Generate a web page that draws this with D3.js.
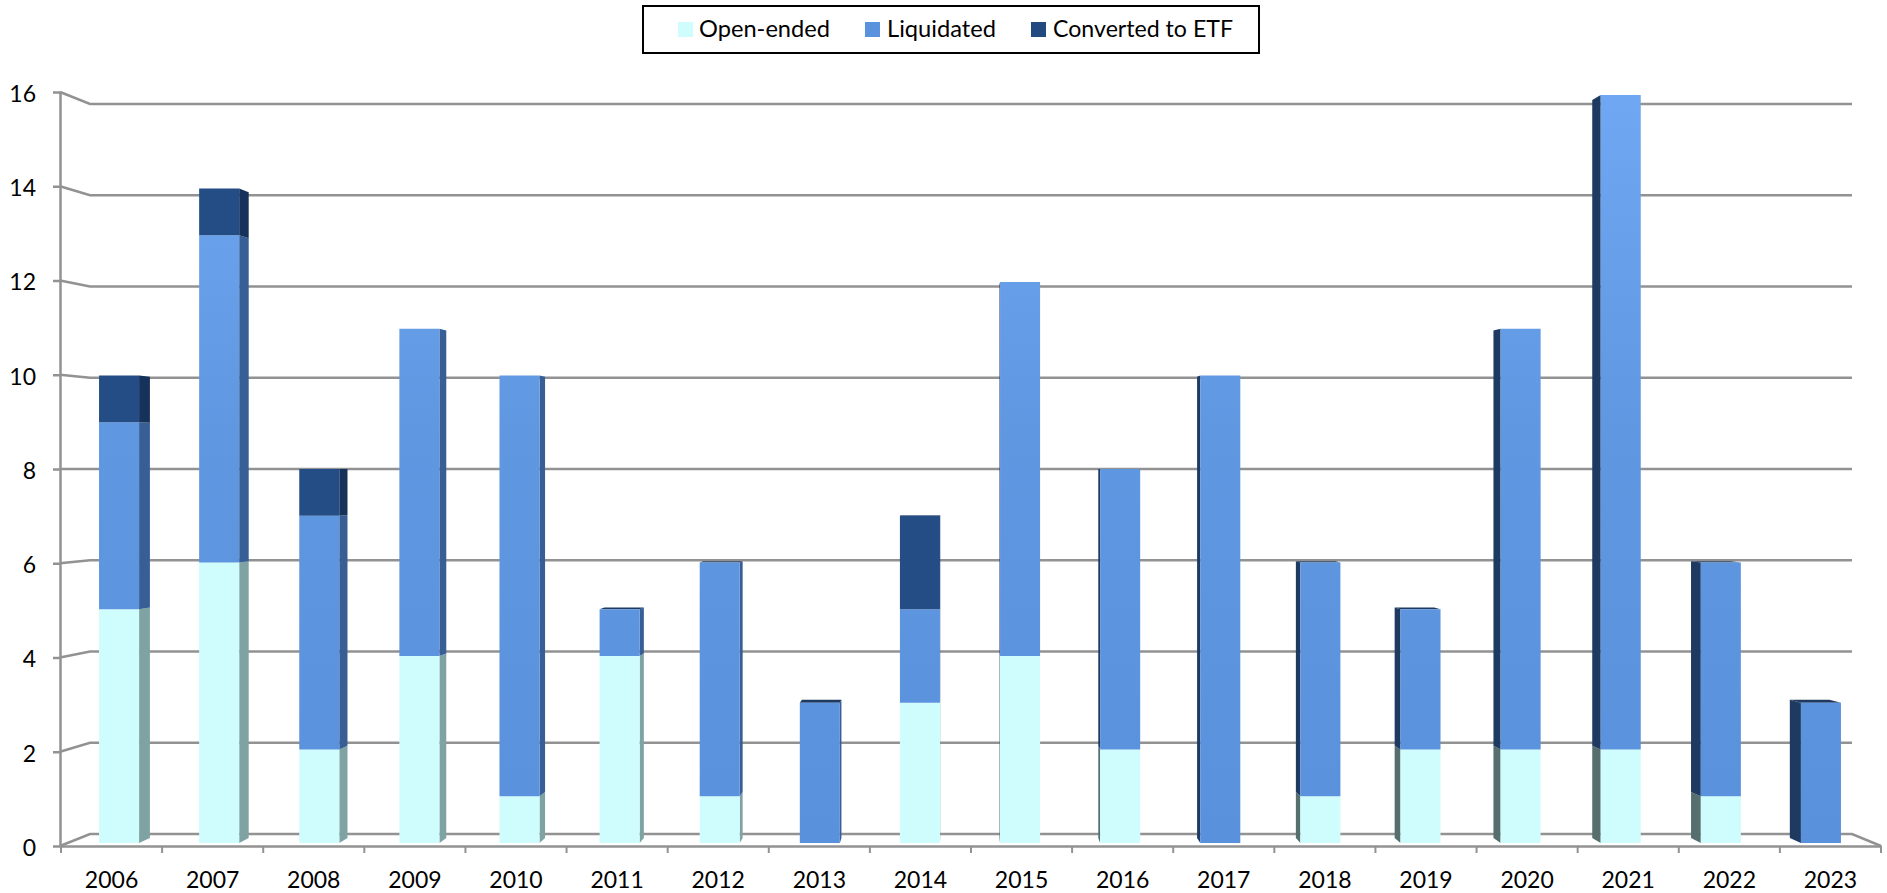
<!DOCTYPE html>
<html>
<head>
<meta charset="utf-8">
<script src="https://cdn.jsdelivr.net/npm/d3@7"></script>
<style>
  html, body { margin: 0; padding: 0; background: #fff; }
  svg { display: block; font-family: Lato, "Open Sans", sans-serif; }
  .domain, .tick line { stroke: #929292; stroke-width: 2.5px; }
  .tick text { fill: #000; font-size: 23px; font-family: Lato, "Open Sans", sans-serif; }
</style>
</head>
<body>
<div id="chart"></div>
<script>
const years = ["2006","2007","2008","2009","2010","2011","2012","2013","2014","2015","2016","2017","2018","2019","2020","2021","2022","2023"]
const openEnded = [5,6,2,4,1,4,1,0,3,4,2,0,1,2,2,2,1,0]
const liquidated = [4,7,5,7,9,1,5,3,2,8,6,10,5,3,9,14,5,3]
const convertedToEtf = [1,1,1,0,0,0,0,0,2,0,0,0,0,0,0,0,0,0]
const seriesNames = ["Open-ended", "Liquidated", "Converted to ETF"]
const yTicks = [0,2,4,6,8,10,12,14,16]

async function drawChart() {
  const dimensions = { width: 1887, height: 893 }

  // front colour, side facing right, side facing left, top
  const faceColors = {
    "Open-ended": { front: "#cffdfd", right: "#7fa3a3", left: "#566e6e", top: "#566e6e" },
    "Liquidated": { front: "url(#liquidated-gradient)", right: "#375f95", left: "#1f3a60", top: "#1f3a60" },
    "Converted to ETF": { front: "#244d85", right: "#16325a", left: "#16325a", top: "#16325a" },
  }
  const legendColors = ["#cffdfd", "#5b92dd", "#224a80"]

  const svg = d3.select("#chart").append("svg")
    .attr("width", dimensions.width)
    .attr("height", dimensions.height)

  const gradient = svg.append("defs").append("linearGradient")
    .attr("id", "liquidated-gradient")
    .attr("gradientUnits", "userSpaceOnUse")
    .attr("x1", 0).attr("x2", 0)
    .attr("y1", 95).attr("y2", 843)
  gradient.append("stop").attr("offset", "0%").attr("stop-color", "#70a7f2")
  gradient.append("stop").attr("offset", "45%").attr("stop-color", "#6097e1")
  gradient.append("stop").attr("offset", "100%").attr("stop-color", "#5a91dc")

  // Scales: front of the box, back wall, and the plane the bars stand in
  const xAxisScale = d3.scaleBand().domain(years).range([61, 1881])
  const xBack = d3.scaleBand().domain(years).range([90, 1852])
  const xBar = d3.scaleBand().domain(years).range([69, 1871])
    .paddingInner(0.6).paddingOuter(0.3)
  const yFront = d3.scaleLinear().domain([0, 16]).range([846, 92])
  const yBack = d3.scaleLinear().domain([0, 16]).range([834, 104])
  const yBar = d3.scaleLinear().domain([0, 16]).range([843, 95])

  // Fake perspective for the bar depth
  const vanishX = 960, vanishY = 469, depth = 0.0132
  const backX = x => x + (vanishX - x) * depth
  const backY = y => y + (vanishY - y) * depth

  // Gridlines on the back wall
  const grid = svg.append("g")
  grid.selectAll("path")
    .data(yTicks)
    .join("path")
      .attr("fill", "none")
      .attr("stroke", "#929292")
      .attr("stroke-width", 2.5)
      .attr("d", d => {
        const path = d3.path()
        path.moveTo(60, yFront(d))
        path.lineTo(xBack.range()[0], yBack(d))
        path.lineTo(xBack.range()[1], yBack(d))
        if (d === 0) path.lineTo(1881, yFront(0))
        return path.toString()
      })

  // Axes
  const xAxis = svg.append("g")
    .attr("transform", `translate(0, ${yFront(0)})`)
    .call(d3.axisBottom(xAxisScale).tickSize(0).tickPadding(26))
  xAxis.selectAll("text").attr("dy", "0.71em")
  xAxis.selectAll(".edge")
    .data([...years.map(d => xAxisScale(d)), xAxisScale.range()[1]])
    .join("line")
      .attr("class", "edge")
      .attr("x1", d => d).attr("x2", d => d)
      .attr("y1", 0).attr("y2", 7)
      .attr("stroke", "#929292")
      .attr("stroke-width", 2)

  const yAxis = svg.append("g")
    .attr("transform", "translate(60, 0)")
    .call(d3.axisLeft(yFront).tickValues(yTicks).tickSize(7).tickSizeOuter(0).tickPadding(17))
  yAxis.selectAll("text").attr("y", 2)

  // Bars
  const table = years.map((year, i) => ({
    year,
    "Open-ended": openEnded[i],
    "Liquidated": liquidated[i],
    "Converted to ETF": convertedToEtf[i],
  }))
  const series = d3.stack().keys(seriesNames)(table)
  const quad = pts => d3.line()(pts) + "Z"

  const barsGroup = svg.append("g")
  series.forEach(layer => {
    const colors = faceColors[layer.key]
    layer.forEach(seg => {
      if (seg[1] === seg[0]) return
      const total = seriesNames.reduce((sum, k) => sum + seg.data[k], 0)
      const x0 = xBar(seg.data.year), x1 = x0 + xBar.bandwidth()
      const y0 = yBar(seg[0]), y1 = yBar(seg[1])

      const sideX = x1 < vanishX ? x1 : x0
      if (x1 < vanishX || x0 > vanishX) {
        barsGroup.append("path")
          .attr("d", quad([[sideX, y0], [sideX, y1], [backX(sideX), backY(y1)], [backX(sideX), backY(y0)]]))
          .attr("fill", x1 < vanishX ? colors.right : colors.left)
      }
      if (seg[1] === total && backY(y1) < y1) {
        barsGroup.append("path")
          .attr("d", quad([[x0, y1], [x1, y1], [backX(x1), backY(y1)], [backX(x0), backY(y1)]]))
          .attr("fill", colors.top)
      }
      barsGroup.append("rect")
        .attr("x", x0)
        .attr("y", y1)
        .attr("width", xBar.bandwidth())
        .attr("height", y0 - y1)
        .attr("fill", colors.front)
    })
  })

  // Legend
  const legend = svg.append("g")
  legend.append("rect")
    .attr("x", 643).attr("y", 6)
    .attr("width", 616).attr("height", 47)
    .attr("fill", "#fff")
    .attr("stroke", "#000")
    .attr("stroke-width", 2)
  const swatchX = [678, 865, 1031]
  const labelX = [699, 887, 1053]
  const labelWidth = [131, 109, 180]
  seriesNames.forEach((name, i) => {
    legend.append("rect")
      .attr("x", swatchX[i]).attr("y", 22)
      .attr("width", 15).attr("height", 15)
      .attr("fill", legendColors[i])
    legend.append("text")
      .attr("x", labelX[i]).attr("y", 37)
      .attr("textLength", labelWidth[i])
      .attr("lengthAdjust", "spacingAndGlyphs")
      .style("font-size", "24px")
      .text(name)
  })
}

drawChart()
</script>
</body>
</html>
